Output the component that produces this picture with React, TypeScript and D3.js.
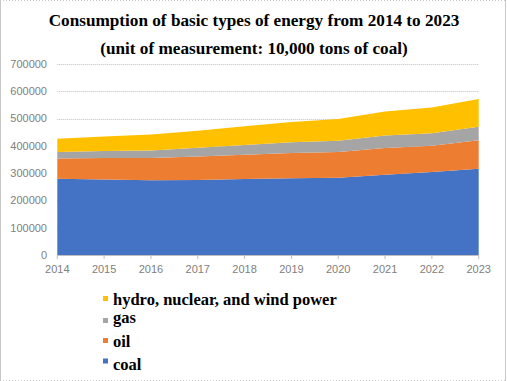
import React from "react";
import * as d3 from "d3";

const years = [2014, 2015, 2016, 2017, 2018, 2019, 2020, 2021, 2022, 2023];
const coal = [279300, 276500, 273700, 275300, 278400, 281300, 283500, 294000, 304000, 316300];
const oil = [74100, 79400, 81700, 85700, 89200, 92600, 93700, 97800, 96800, 104700];
const gas = [24300, 25600, 27400, 31900, 35900, 39000, 41900, 46300, 45400, 48600];
const hydro = [48100, 52600, 58700, 62900, 68400, 74600, 79200, 87800, 94700, 102400];
const seriesNames = ["coal", "oil", "gas", "hydro, nuclear, and wind power"];
const colors = ["#4472C4", "#ED7D31", "#A5A5A5", "#FFC000"];
const yTicks = [0, 100000, 200000, 300000, 400000, 500000, 600000, 700000];

const W = 507;
const H = 381;
const left = 57.3;
const right = 478.7;
const top = 64;
const bottom = 255;
const legendRowY = [305, 322.5, 347, 370];
const legendMarkY = [298.5, 320.5, 340.5, 361];
const serif = "'Times New Roman', 'Liberation Serif', Tinos, serif";
const sans = "Arial, 'Liberation Sans', sans-serif";

export default function App() {
  const x = d3.scaleLinear().domain([years[0], years[years.length - 1]]).range([left, right]);
  const y = d3.scaleLinear().domain([0, 700000]).range([bottom, top]);
  const rows = years.map((yr, i) => ({ year: yr, s0: coal[i], s1: oil[i], s2: gas[i], s3: hydro[i] }));
  const stacked = d3.stack<any>().keys(["s0", "s1", "s2", "s3"])(rows);
  const area = d3
    .area<any>()
    .x((d) => x(d.data.year))
    .y0((d) => y(d[0]))
    .y1((d) => y(d[1]));

  const legendOrder = [3, 2, 1, 0];

  return (
    <div style={{ position: "absolute", left: 0, top: 0 }}>
      <style>{`body{margin:0}`}</style>
      <svg width={W} height={H} style={{ display: "block", background: "#fff" }}>
        <rect x={0} y={0} width={W} height={H} fill="#fff" />
        <line x1={0.5} y1={0} x2={0.5} y2={381} stroke="#c8c8c8" />
        <line x1={505.5} y1={0} x2={505.5} y2={381} stroke="#c8c8c8" />
        <line x1={0} y1={0.5} x2={506} y2={0.5} stroke="#c8c8c8" strokeDasharray="1,2" />
        <line x1={0} y1={380.5} x2={506} y2={380.5} stroke="#c8c8c8" strokeDasharray="1,2" />

        <text x={254} y={26} textAnchor="middle" fontFamily={serif} fontWeight="bold" fontSize={17.2} fill="#000">
          Consumption of basic types of energy from 2014 to 2023
        </text>
        <text x={254} y={54} textAnchor="middle" fontFamily={serif} fontWeight="bold" fontSize={17.2} fill="#000">
          (unit of measurement: 10,000 tons of coal)
        </text>

        {yTicks.slice(1).map((t) => (
          <line key={t} x1={left} x2={right} y1={Math.round(y(t)) + 0.5} y2={Math.round(y(t)) + 0.5} stroke="#bfbfbf" strokeDasharray="1,1" />
        ))}

        {stacked.map((s, i) => (
          <path key={i} d={area(s) || ""} fill={colors[i]} />
        ))}

        <line x1={left} x2={right} y1={bottom + 0.5} y2={bottom + 0.5} stroke="#bfbfbf" />
        {years.map((yr) => (
          <line key={yr} x1={x(yr)} x2={x(yr)} y1={bottom} y2={bottom + 4} stroke="#bfbfbf" />
        ))}

        {yTicks.map((t) => (
          <text key={t} x={47} y={y(t)} dy="0.35em" textAnchor="end" fontFamily={sans} fontSize={11} fill="#808080">
            {t}
          </text>
        ))}
        {years.map((yr) => (
          <text key={yr} x={x(yr)} y={273} textAnchor="middle" fontFamily={sans} fontSize={11} fill="#808080">
            {yr}
          </text>
        ))}

        {legendOrder.map((si, r) => (
          <g key={si}>
            <rect x={103} y={legendMarkY[r] - 2.5} width={5} height={5} fill={colors[si]} />
            <text x={113} y={legendRowY[r]} fontFamily={serif} fontWeight="bold" fontSize={16.5} fill="#000">
              {seriesNames[si]}
            </text>
          </g>
        ))}
      </svg>
    </div>
  );
}
